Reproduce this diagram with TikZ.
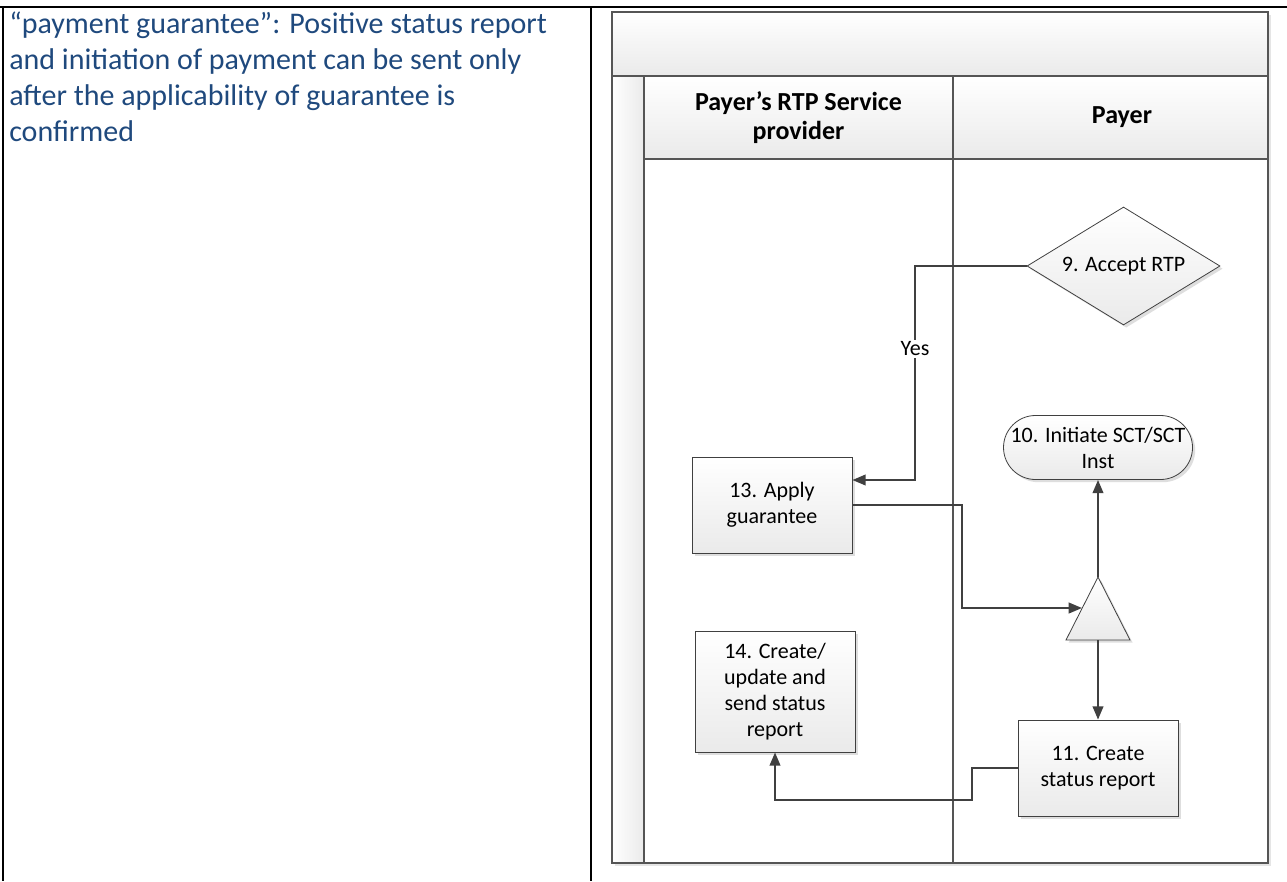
\documentclass[tikz,border=0pt]{standalone}
\usepackage{fontspec}
\setmainfont{Carlito}
\usetikzlibrary{arrows.meta,shapes.geometric,shadows}
\definecolor{txtblue}{RGB}{31,73,125}
\definecolor{lanegray}{RGB}{85,85,85}
\definecolor{conncol}{RGB}{64,64,64}
\definecolor{fillgray}{RGB}{234,234,234}
\begin{document}
\begin{tikzpicture}[x=0.75pt,y=-0.75pt,
  proc/.style={draw=conncol, line width=0.6pt, top color=white, bottom color=fillgray,
    align=center, font=\fontsize{16.5}{19.5}\selectfont, inner sep=2pt, minimum width=120pt,
    drop shadow={shadow xshift=2pt, shadow yshift=-2pt, fill=gray!50, opacity=0.5}},
  link/.style={draw=conncol, line width=1.5pt, -{Triangle[length=10pt,width=8pt]}},
  lane/.style={draw=lanegray, line width=1.2pt},
  hdr/.style={font=\bfseries\fontsize{19.5}{21.5}\selectfont, align=center}
]
\useasboundingbox (0,0) rectangle (1287,881);

% outer table frame
\draw[black, line width=2pt] (0,7) -- (1287,7);
\draw[black, line width=2pt] (3,7) -- (3,881);
\draw[black, line width=2pt] (591,7) -- (591,881);

% left note
\node[anchor=north west, align=left, text=txtblue, font=\fontsize{22.5}{27}\selectfont, inner sep=0pt]
  (note) at (9,12) {“payment guarantee”: Positive status report\\and initiation of payment can be sent only\\after the applicability of guarantee is\\confirmed};

% swimlane pool
\path[top color=white, bottom color=fillgray, drop shadow={shadow xshift=2pt, shadow yshift=-2pt, fill=gray!40, opacity=0.5}] (612,12) rectangle (1268,863);
\fill[white] (644,159) rectangle (1268,863);
\shade[top color=white, bottom color=fillgray] (612,12) rectangle (1268,76);
\shade[left color=white, right color=fillgray] (612,76) rectangle (644,863);
\shade[top color=white, bottom color=fillgray] (644,76) rectangle (1268,159);
\draw[lane] (612,12) rectangle (1268,863);
\draw[lane] (612,76) -- (1268,76);
\draw[lane] (644,76) -- (644,863);
\draw[lane] (644,159) -- (1268,159);
\draw[lane] (953,76) -- (953,863);

\node[hdr] (h1) at (798.5,117.5) {Payer’s RTP Service\\provider};
\node[hdr] (h2) at (1122,117.5) {Payer};

% shapes
\node[proc, minimum height=72pt] (b13) at (772,505) {13. Apply\\guarantee};
\node[proc, minimum height=90.75pt] (b14) at (775,691.5) {14. Create/\\update and\\send status\\report};
\node[proc, minimum height=72pt] (b11) at (1098,768) {11. Create\\status report};
\node[proc, diamond, aspect=1.64, inner sep=0pt, minimum width=144.75pt, minimum height=88.5pt] (d9) at (1123.5,266) {9. Accept RTP};
\node[proc, rounded corners=24pt, inner sep=1pt, minimum width=141.75pt, minimum height=48pt] (t10) at (1098,447.5) {10. Initiate SCT/SCT\\Inst};

\coordinate (tA) at (1098,577);
\coordinate (tL) at (1066,640);
\coordinate (tR) at (1130,640);
\coordinate (tB) at (1098,640);
\coordinate (tIn) at (1082,608);
\path[top color=white, bottom color=fillgray, drop shadow={shadow xshift=2pt, shadow yshift=-2pt, fill=gray!50, opacity=0.5}] (tA) -- (tR) -- (tL) -- cycle;
\draw[draw=conncol, line width=0.6pt] (tA) -- (tR) -- (tL) -- cycle;

% connectors
\coordinate (y1) at (915,266);
\coordinate (y2) at (915,480);
\draw[link] (d9.west) -- (y1) -- (y2) -- (b13.east |- y2);
\node[fill=white, inner sep=1.5pt, font=\fontsize{16.5}{19.5}\selectfont] (yes) at (915,349) {Yes};

\coordinate (g1) at (962,505);
\draw[link] (b13.east |- g1) -- (g1) -- (g1 |- tIn) -- (tIn);

\draw[link] (tA) -- (t10.south);
\draw[link] (tB) -- (b11.north);

\coordinate (s1) at (972,768);
\coordinate (s2) at (972,800);
\draw[link] (b11.west) -- (s1) -- (s2) -- (b14.south |- s2) -- (b14.south);
\end{tikzpicture}
\end{document}
